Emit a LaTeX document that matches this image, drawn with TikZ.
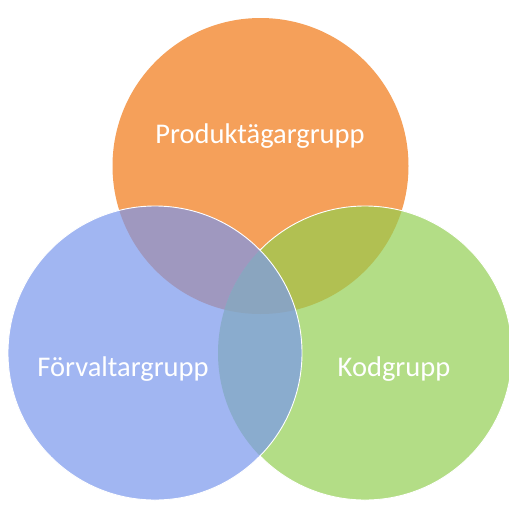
\documentclass[tikz,border=0pt]{standalone}
\usepackage{fontspec}
\setmainfont{Carlito}
\definecolor{cOr}{HTML}{F5A05A}
\definecolor{cBl}{HTML}{A1B6F2}
\definecolor{cGr}{HTML}{B3DD86}
\definecolor{cOB}{HTML}{9F98BF}
\definecolor{cOG}{HTML}{B1C052}
\definecolor{cBG}{HTML}{8AACCE}
\definecolor{cOBG}{HTML}{8AA5BF}
\begin{document}
\begin{tikzpicture}[x=1pt,y=-1pt,
  lbl/.style={text=white, font=\fontsize{28.5}{32}\selectfont, anchor=base, inner sep=0pt},
  rim/.style={draw=white, line width=0.9pt}]
\useasboundingbox (0,0) rectangle (509,504);
\clip (0,0) rectangle (509,504);
\fill[white] (0,0) rectangle (509,504);
\coordinate (po) at (260.5,166);
\coordinate (pb) at (155,353);
\coordinate (pg) at (365,353);
% top set
\fill[cOr] (po) circle[radius=148pt];
% right set, laid over the top one
\fill[cGr] (pg) circle[radius=147pt];
\begin{scope}
  \clip (po) circle[radius=148pt];
  \fill[cOG] (pg) circle[radius=147pt];
\end{scope}
\draw[rim] (pg) circle[radius=147pt];
% left set, laid over both
\fill[cBl] (pb) circle[radius=147pt];
\begin{scope}
  \clip (pb) circle[radius=147pt];
  \begin{scope}
    \clip (po) circle[radius=148pt];
    \fill[cOB] (pb) circle[radius=147pt];
  \end{scope}
  \begin{scope}
    \clip (pg) circle[radius=147pt];
    \fill[cBG] (pb) circle[radius=147pt];
    \clip (po) circle[radius=148pt];
    \fill[cOBG] (pb) circle[radius=147pt];
  \end{scope}
\end{scope}
\draw[rim] (pb) circle[radius=147pt];
% labels
\node[lbl] (prod) at (260,143) {Produktägargrupp};
\node[lbl] (forv) at (123,376) {Förvaltargrupp};
\node[lbl] (kod) at (394,376) {Kodgrupp};
\end{tikzpicture}
\end{document}
